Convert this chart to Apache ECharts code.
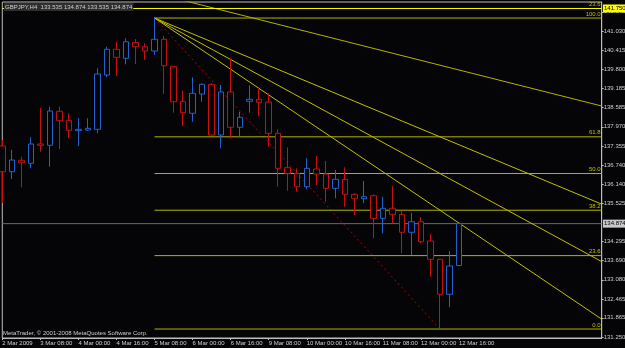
<!DOCTYPE html>
<html>
<head>
<meta charset="utf-8">
<script src="https://cdn.jsdelivr.net/npm/echarts@6/dist/echarts.min.js"></script>
<style>
html,body{margin:0;padding:0;background:#050507}
#chart{width:625px;height:348px}
</style>
</head>
<body>
<div id="chart"></div>
<script>
// GBPJPY H4, 2 Mar 16:00 .. 12 Mar 16:00
var open = [137.355,136.533,136.898,136.802,137.419,137.377,138.464,138.176,137.845,137.866,
  137.888,139.624,140.445,140.158,140.669,140.528,140.391,140.765,139.902,138.783,
  138.400,139.017,139.327,137.706,139.081,137.952,138.783,138.847,138.761,137.760,
  136.661,136.482,136.054,136.620,136.460,136.003,136.290,135.811,135.670,135.766,
  135.044,135.364,135.172,134.597,134.935,134.319,133.734,132.615,133.535];
var close = [136.533,136.907,136.821,137.419,137.377,138.473,138.163,137.856,137.888,137.920,
  139.656,140.445,140.189,140.688,140.528,140.391,140.765,139.921,138.770,138.419,
  139.039,139.327,137.706,139.081,137.952,138.272,138.847,138.751,137.760,136.642,
  136.482,136.054,136.642,136.460,136.003,136.290,135.811,135.683,135.734,135.044,
  135.364,135.172,134.597,134.935,134.296,133.734,132.615,133.520,134.874];
var low = [135.533,136.300,136.035,136.642,137.173,136.693,137.259,137.601,137.355,137.834,
  137.760,139.550,139.592,139.966,139.975,140.103,140.263,139.017,138.419,137.994,
  138.131,138.770,137.706,137.281,137.601,137.633,138.419,138.314,137.332,136.054,
  135.926,135.894,135.971,136.108,135.575,135.683,135.415,135.150,135.523,134.405,
  134.565,134.884,133.925,133.871,134.245,133.178,131.506,132.200,133.535];
var high = [137.547,137.227,137.013,137.633,138.569,138.611,138.611,138.400,138.240,138.240,
  139.838,140.528,140.688,140.797,140.774,140.637,141.445,140.870,139.902,139.122,
  139.550,139.358,139.358,139.304,140.158,138.451,139.295,139.231,139.039,137.888,
  137.313,136.642,136.962,137.035,136.875,136.588,136.674,135.843,136.236,135.811,
  135.734,136.076,135.287,135.223,135.076,134.542,133.734,133.999,134.874];

var days = ['2 Mar','3 Mar','4 Mar','5 Mar','6 Mar','9 Mar','10 Mar','11 Mar','12 Mar'];
var xTickLabels = ['2 Mar 2009','3 Mar 08:00','4 Mar 00:00','4 Mar 16:00','5 Mar 08:00','6 Mar 00:00',
  '6 Mar 16:00','9 Mar 08:00','10 Mar 00:00','10 Mar 16:00','11 Mar 08:00','12 Mar 00:00','12 Mar 16:00'];
var yTicks = [131.250,131.865,132.465,133.080,133.690,134.295,135.525,136.140,136.740,137.355,
  137.970,138.585,139.185,139.800,140.415,141.030,141.645];

// fibonacci objects
var fibHighIdx = 16, fibHigh = 141.445;
var fibLowIdx = 46, fibLow = 131.506;
var retraceLevels = [0, 23.6, 38.2, 50, 61.8, 100];
var fanLevels = [38.2, 50, 61.8];
var lineA = [[16, 142.24], [63, 138.633]];
var bidPrice = 134.874;
var hLinePrice = 141.750;

var categories = [];
days.forEach(function (d, k) {
  for (var h = 0; h < 24; h += 4) {
    if (k == 0 && h < 16) continue;
    if (k == days.length - 1 && h > 16) continue;
    categories.push(d + ' ' + (h < 10 ? '0' + h : h) + ':00');
  }
});
var lastIdx = 63;
while (categories.length <= lastIdx) categories.push('e' + categories.length);

var candles = open.map(function (o, i) { return [o, close[i], low[i], high[i]]; });

function lvlPrice(l) { return fibLow + (fibHigh - fibLow) * l / 100; }

var FONT = '"Liberation Sans",sans-serif';
var olive = '#b4b400';

function segment(pts, color, extra) {
  return Object.assign({
    type: 'line', silent: true, symbol: 'none',
    lineStyle: { color: color, width: 1, type: 'solid' },
    data: pts
  }, extra || {});
}

var retraceSeries = retraceLevels.map(function (l) {
  var p = lvlPrice(l);
  return segment([[fibHighIdx, p], [lastIdx, p]], olive);
});

var fanSeries = fanLevels.map(function (l) {
  var slope = (lvlPrice(l) - fibHigh) / (fibLowIdx - fibHighIdx);
  return segment([[fibHighIdx, fibHigh], [lastIdx, fibHigh + slope * (lastIdx - fibHighIdx)]], '#c0c000');
});

var rightLabels = retraceLevels.map(function (l) { return [lvlPrice(l), l.toFixed(1)]; });
rightLabels.push([hLinePrice, '23.6']);

var chart = echarts.init(document.getElementById('chart'));
chart.setOption({
  animation: false,
  backgroundColor: '#050507',
  grid: { left: 2.3, right: 23.3, top: 2, bottom: 10, outerBoundsMode: 'none', containLabel: false, show: true, borderColor: '#bdbdbd', borderWidth: 1, backgroundColor: '#050507' },
  xAxis: {
    type: 'category', data: categories, boundaryGap: false,
    axisLine: { lineStyle: { color: '#bdbdbd' } },
    axisTick: { length: 2, lineStyle: { color: '#bdbdbd' }, interval: function (i) { return i % 4 == 0 && i <= 48; } },
    axisLabel: {
      interval: function (i) { return i % 4 == 0 && i <= 48; },
      formatter: function (v, i) { return xTickLabels[i / 4] || ''; },
      color: '#d0d0d0', fontSize: 6, fontFamily: FONT, align: 'left', margin: 2, hideOverlap: false
    },
    splitLine: { show: false }
  },
  yAxis: {
    type: 'value', position: 'right', min: 131.219, max: 141.957, scale: true,
    axisLine: { show: true, lineStyle: { color: '#bdbdbd' } },
    axisTick: { show: true, length: 2, customValues: yTicks, lineStyle: { color: '#bdbdbd' } },
    axisLabel: { customValues: yTicks, formatter: function (v) { return v.toFixed(3); }, color: '#d0d0d0', fontSize: 6, fontFamily: FONT, margin: 2 },
    splitLine: { show: false }
  },
  series: [
    segment([[fibHighIdx, fibHigh], [fibLowIdx, fibLow]], '#b00000', { z: 1, lineStyle: { color: '#b00000', width: 1, type: [2, 3] } }),
    segment(lineA, olive),
    segment([[0, hLinePrice], [lastIdx, hLinePrice]], '#ffff00'),
    segment([[0, bidPrice], [lastIdx, bidPrice]], '#6a6a6a')
  ].concat(retraceSeries).concat(fanSeries).concat([
    {
      type: 'scatter', silent: true, clip: false, symbolSize: 1, itemStyle: { opacity: 0 },
      label: { show: true, position: [-5, -8], color: '#c0c000', fontSize: 6, fontFamily: FONT, formatter: function (p) { return p.value[2]; } },
      data: fanLevels.map(function (l) { return [fibLowIdx, lvlPrice(l), l.toFixed(1)]; })
    },
    {
      type: 'candlestick', z: 5,
      barWidth: 6,
      itemStyle: { color: '#050507', color0: '#050507', borderColor: '#1f62d0', borderColor0: '#c81010', borderWidth: 1 },
      data: candles,
      markLine: {
        silent: true, symbol: 'none', animation: false,
        lineStyle: { width: 0 },
        data: [
          [{ yAxis: bidPrice, x: 2, label: { show: true, position: 'end', distance: 1, formatter: bidPrice.toFixed(3), color: '#000', backgroundColor: '#c8c8c8', padding: [1, 1], fontSize: 6, fontFamily: FONT } }, { yAxis: bidPrice, x: 602 }],
          [{ yAxis: hLinePrice, x: 2, label: { show: true, position: 'end', distance: 1, formatter: hLinePrice.toFixed(3), color: '#000', backgroundColor: '#ffff00', padding: [1, 1], fontSize: 6, fontFamily: FONT } }, { yAxis: hLinePrice, x: 602 }]
        ]
      }
    }
  ])
});

// level labels at the right end of the retracement lines, placed through the axes
var texts = [
  { type: 'text', left: 4, top: 3, z: 100, style: { text: 'GBPJPY,H4  133.535 134.874 133.535 134.874', fill: '#d0d0d0', font: '6px ' + FONT, backgroundColor: '#2e2e2e', padding: [1, 1] } },
  { type: 'text', left: 3, top: 330, z: 100, style: { text: 'MetaTrader, \u00a9 2001-2008 MetaQuotes Software Corp.', fill: '#d0d0d0', font: '6px ' + FONT } }
];
rightLabels.forEach(function (r) {
  var pt = chart.convertToPixel({ gridIndex: 0 }, [lastIdx, r[0]]);
  texts.push({ type: 'text', x: pt[0] - 1, y: pt[1] - 1, z: 100, style: { text: r[1], fill: '#c0c000', font: '6px ' + FONT, align: 'right', verticalAlign: 'bottom' } });
});
chart.setOption({ graphic: texts });
</script>
</body>
</html>
